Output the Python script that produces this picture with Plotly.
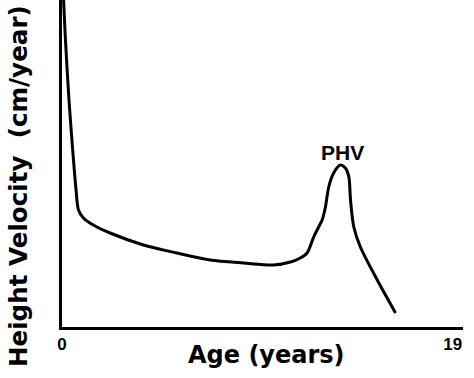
import plotly.graph_objects as go

# Age (years) and height velocity (arbitrary units)
age = [0.05, 0.15, 0.34, 0.52, 0.68, 0.80, 1.04, 1.52, 2.34, 3.96, 5.59, 7.21,
       8.83, 10.29, 11.11, 11.59, 11.92, 12.24, 12.48, 12.65, 12.81, 12.97,
       13.21, 13.54, 13.78, 13.95, 14.03, 14.19, 14.51, 15.33, 16.22]
velocity = [34.0, 29.4, 22.7, 17.7, 13.8, 11.7, 10.9, 10.2, 9.4, 8.2, 7.4, 6.7,
            6.4, 6.2, 6.5, 6.9, 7.4, 9.0, 10.0, 10.7, 12.0, 14.0,
            15.4, 16.2, 15.9, 15.0, 12.7, 10.0, 8.0, 4.7, 1.4]
tick_vals = [0, 19]
tick_text = ["0", "19"]
phv_age = 13.64
phv_label_y = 17.5

fig = go.Figure()
fig.add_trace(go.Scatter(x=age, y=velocity, mode="lines",
                         line=dict(color="black", width=3, shape="spline", smoothing=0.8),
                         hoverinfo="skip", showlegend=False))

fig.add_annotation(x=phv_age, y=phv_label_y, text="PHV", showarrow=False,
                   xanchor="center", yanchor="middle",
                   font=dict(family="Liberation Sans", size=21, color="black", weight="bold"))

fig.add_annotation(xref="paper", yref="paper", x=-0.1097, y=0.431,
                   text="Height Velocity  (cm/year)", textangle=-90, showarrow=False,
                   xanchor="center", yanchor="middle",
                   font=dict(family="DejaVu Sans", size=24.6, color="black", weight="bold"))
fig.add_annotation(xref="paper", yref="paper", x=0.509, y=-0.0856,
                   text="Age (years)", showarrow=False,
                   xanchor="center", yanchor="middle",
                   font=dict(family="DejaVu Sans", size=24, color="black", weight="bold"))

fig.update_layout(
    width=474, height=378,
    margin=dict(l=62, r=11, t=0, b=51, autoexpand=False),
    paper_bgcolor="white", plot_bgcolor="white",
    xaxis=dict(range=[0, 19.5], tickvals=tick_vals, ticktext=tick_text,
               showgrid=False, zeroline=False, showline=True, linecolor="black",
               linewidth=3, ticks="", automargin=False,
               tickfont=dict(family="Liberation Sans", size=17, color="black", weight="bold")),
    yaxis=dict(range=[0, 32.7], showticklabels=False, showgrid=False, zeroline=False,
               showline=True, linecolor="black", linewidth=3, ticks="", automargin=False),
)

fig.write_html("out.html", config={"displayModeBar": False},
               post_script="document.body.style.margin='0';document.body.style.padding='0';")
